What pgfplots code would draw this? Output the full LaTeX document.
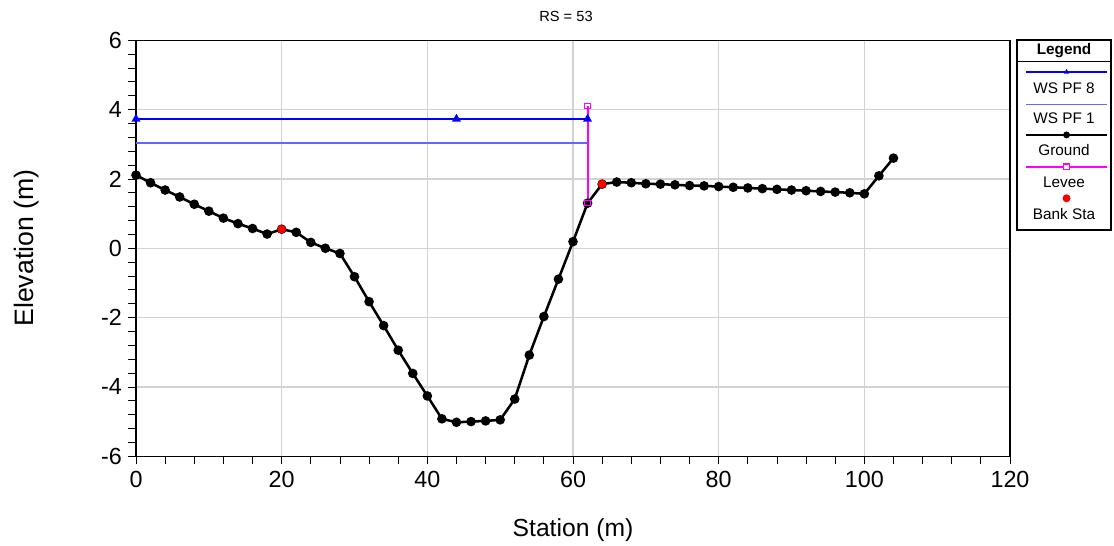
\documentclass[border=0pt]{standalone}
\usepackage{pgfplots}
\pgfplotsset{compat=1.18}
\usepackage{fontspec}
\setmainfont{Liberation Sans}
\definecolor{wsonec}{RGB}{100,100,255}
\definecolor{leveec}{RGB}{255,0,255}
\definecolor{gridc}{RGB}{210,210,210}
\begin{document}
\begin{tikzpicture}
\begin{axis}[
  scale only axis,
  width=655.5pt, height=312pt,
  xmin=0, xmax=120, ymin=-6, ymax=6,
  xtick={0,20,...,120}, ytick={-6,-4,...,6},
  minor x tick num=4, minor y tick num=4,
  tick pos=left, tick align=outside,
  major tick length=6pt, minor tick length=6pt,
  every tick/.style={black, line width=0.6pt},
  grid=major,
  major grid style={gridc, line width=1pt},
  axis line style={black, line width=0.8pt},
  /pgf/number format/assume math mode=true,
  ticklabel style={font=\fontsize{17.5}{18}\selectfont},
  xticklabel style={yshift=-2pt},
  yticklabel style={xshift=-1pt},
  clip=false,
]
\addplot[draw=wsonec, line width=1.1pt, mark=none] coordinates {(0,3.03) (62,3.03)};
\addplot[color=blue, line width=1.4pt, mark=triangle*, mark size=2.5pt, mark options={fill=blue}] coordinates {(0,3.73) (44,3.73) (62,3.73)};
\addplot[color=black, line width=1.9pt, mark=*, mark size=2.6pt] table {
0 2.11
2 1.89
4 1.68
6 1.48
8 1.27
10 1.07
12 0.87
14 0.71
16 0.57
18 0.41
20 0.55
22 0.46
24 0.17
26 0.00
28 -0.15
30 -0.82
32 -1.54
34 -2.23
36 -2.94
38 -3.61
40 -4.26
42 -4.92
44 -5.02
46 -5.00
48 -4.98
50 -4.95
52 -4.35
54 -3.08
56 -1.97
58 -0.89
60 0.19
62 1.30
64 1.85
66 1.91
68 1.89
70 1.86
72 1.85
74 1.83
76 1.81
78 1.80
80 1.78
82 1.76
84 1.74
86 1.72
88 1.70
90 1.68
92 1.66
94 1.64
96 1.62
98 1.60
100 1.57
102 2.09
104 2.60
};
\addplot[color=leveec, line width=1.6pt, mark=square, mark size=2pt, mark options={fill=white, line width=0.8pt}] coordinates {(62,1.30) (62,4.10)};
\addplot[only marks, color=red, mark=*, mark size=3pt] coordinates {(20,0.55) (64,1.85)};
\end{axis}
% titles and labels
\node[font=\fontsize{11}{12}\selectfont] at (322.5pt,329.5pt) {RS = 53};
\node[font=\fontsize{18.5}{19}\selectfont] at (327.75pt,-55.3pt) {Station (m)};
\node[font=\fontsize{20}{21}\selectfont, rotate=90] at (-82pt,156.2pt) {Elevation (m)};
% legend box
\draw[black, line width=0.8pt] (660.75pt,169.7pt) rectangle (731.25pt,312.2pt);
\draw[black, line width=0.6pt] (660.75pt,295.9pt) -- (731.25pt,295.9pt);
\node[font=\bfseries\fontsize{11.5}{12}\selectfont] at (696pt,304pt) {Legend};
% WS PF 8
\draw[blue, line width=1.4pt] (667.5pt,288.4pt) -- (728.2pt,288.4pt);
\fill[blue, shift={(697.9pt,288.4pt)}] (-2pt,-1.4pt) -- (2pt,-1.4pt) -- (0pt,2.2pt) -- cycle;
\node[font=\fontsize{11.5}{12}\selectfont] at (696pt,276.2pt) {WS PF 8};
% WS PF 1
\draw[wsonec, line width=1.1pt] (667.5pt,264.0pt) -- (728.2pt,264.0pt);
\node[font=\fontsize{11.5}{12}\selectfont] at (696pt,253.5pt) {WS PF 1};
% Ground
\draw[black, line width=1.9pt] (667.5pt,241.0pt) -- (728.2pt,241.0pt);
\fill[black] (697.9pt,241.0pt) circle (2.6pt);
\node[font=\fontsize{11.5}{12}\selectfont] at (696pt,229.7pt) {Ground};
% Levee
\draw[leveec, line width=1.6pt] (667.5pt,217.2pt) -- (728.2pt,217.2pt);
\draw[leveec, fill=white, line width=0.8pt] (695.9pt,215.2pt) rectangle (699.9pt,219.2pt);
\node[font=\fontsize{11.5}{12}\selectfont] at (696pt,205.5pt) {Levee};
% Bank Sta
\fill[red] (697.9pt,193.5pt) circle (3pt);
\node[font=\fontsize{11.5}{12}\selectfont] at (696pt,182pt) {Bank Sta};
% bounding box
\path (-102pt,-67.3pt) rectangle (733.5pt,342.2pt);
\end{tikzpicture}
\end{document}
